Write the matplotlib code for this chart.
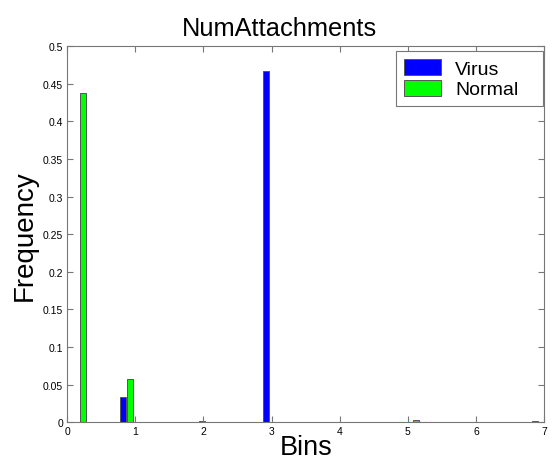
import numpy as np
import matplotlib as mpl
import matplotlib.pyplot as plt
from matplotlib import rcParams
rcParams.update({'font.family': ['Liberation Sans', 'DejaVu Sans'], 'font.size': 7.5})

# 20 histogram bins over [0, 7]
bins = [0.175, 0.525, 0.875, 1.225, 1.575, 1.925, 2.275, 2.625, 2.975, 3.325,
        3.675, 4.025, 4.375, 4.725, 5.075, 5.425, 5.775, 6.125, 6.475, 6.825]
virus = [0, 0, 0.034, 0, 0, 0, 0, 0, 0.467, 0,
         0, 0, 0, 0, 0, 0, 0, 0, 0, 0]
normal = [0.4375, 0, 0.057, 0, 0, 0.0013, 0, 0, 0, 0,
          0, 0, 0, 0, 0.0035, 0, 0, 0, 0, 0.002]

fig = plt.figure(figsize=(5.53, 4.64), dpi=100)
ax = fig.add_axes([0.1217, 0.0877, 0.862, 0.811])

x = np.array(bins)
w = 0.088
ax.bar(x - 0.05, virus, width=w, color='#0000ff', edgecolor='#555555', linewidth=0.7, label='Virus')
ax.bar(x + 0.05, normal, width=w, color='#00ff00', edgecolor='#555555', linewidth=0.7, label='Normal')

ax.set_xlim(0, 7)
ax.set_ylim(0, 0.5)
ax.set_xticks(range(8))
ax.set_yticks(np.arange(0, 0.51, 0.05))
ax.set_yticklabels(['0', '0.05', '0.1', '0.15', '0.2', '0.25', '0.3', '0.35', '0.4', '0.45', '0.5'])
ax.tick_params(direction='in', top=True, right=True, length=4, width=0.8, color='#777777', pad=3)
for s in ax.spines.values():
    s.set_color('#777777')
    s.set_linewidth(0.8)

ax.set_title('NumAttachments', fontsize=18.3, pad=8, x=0.445)
ax.set_xlabel('Bins', fontsize=19.5, labelpad=-2)
ax.set_ylabel('Frequency', fontsize=20, labelpad=4)

leg = ax.legend(loc='upper left', bbox_to_anchor=(0.6895, 0.85, 0.3085, 0.1367), mode='expand',
                fontsize=14, fancybox=False, framealpha=1, borderaxespad=0,
                handlelength=1.9, handleheight=0.9, borderpad=0.4,
                handletextpad=0.75, labelspacing=0.1)
leg.get_frame().set_edgecolor('#777777')
leg.get_frame().set_linewidth(0.8)

plt.savefig('out.png')
